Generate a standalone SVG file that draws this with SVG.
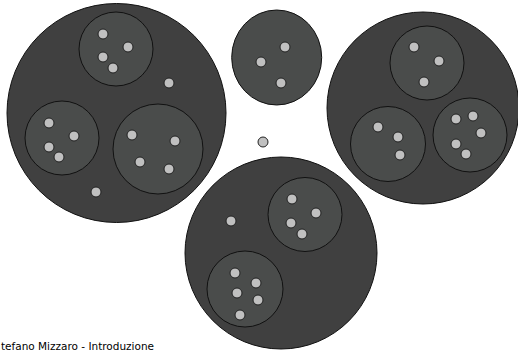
<svg xmlns="http://www.w3.org/2000/svg" width="518" height="352" viewBox="0 0 518 352">
<style>
.big{fill:#404040;stroke:#111;stroke-width:1}
.in{fill:#4a4c4b;stroke:#111;stroke-width:1}
.dot{fill:#c0c0c0;stroke:#222;stroke-width:1}
.foot{font-family:"DejaVu Sans",sans-serif;font-size:10px;fill:#000}
</style>
<rect width="518" height="352" fill="#fff"/>
<g id="set-left">
<circle class="big" cx="116.5" cy="113" r="109.5"/>
<g id="left-top"><circle class="in" cx="116" cy="49" r="37"/>
<circle class="dot" cx="103" cy="34" r="5"/><circle class="dot" cx="128" cy="47" r="5"/><circle class="dot" cx="103" cy="57" r="5"/><circle class="dot" cx="113" cy="68" r="5"/></g>
<g id="left-left"><circle class="in" cx="62" cy="138" r="37"/>
<circle class="dot" cx="49" cy="123" r="5"/><circle class="dot" cx="74" cy="136" r="5"/><circle class="dot" cx="49" cy="147" r="5"/><circle class="dot" cx="59" cy="157" r="5"/></g>
<g id="left-right"><circle class="in" cx="158" cy="149" r="45"/>
<circle class="dot" cx="132" cy="135" r="5"/><circle class="dot" cx="175" cy="141" r="5"/><circle class="dot" cx="140" cy="162" r="5"/><circle class="dot" cx="169" cy="169" r="5"/></g>
<circle class="dot" cx="169" cy="83" r="5"/>
<circle class="dot" cx="96" cy="192" r="5"/>
</g>
<g id="set-middle">
<ellipse class="in" cx="276.7" cy="57.5" rx="45" ry="47.5"/>
<circle class="dot" cx="285" cy="47" r="5"/><circle class="dot" cx="261" cy="62" r="5"/><circle class="dot" cx="281" cy="83" r="5"/>
</g>
<g id="set-right">
<circle class="big" cx="423" cy="108" r="96"/>
<g id="right-top"><circle class="in" cx="427" cy="63" r="37"/>
<circle class="dot" cx="414" cy="47" r="5"/><circle class="dot" cx="439" cy="61" r="5"/><circle class="dot" cx="424" cy="82" r="5"/></g>
<g id="right-left"><circle class="in" cx="388" cy="144" r="37.5"/>
<circle class="dot" cx="378" cy="127" r="5"/><circle class="dot" cx="398" cy="137" r="5"/><circle class="dot" cx="400" cy="155" r="5"/></g>
<g id="right-right"><circle class="in" cx="470" cy="135" r="37"/>
<circle class="dot" cx="456" cy="119" r="5"/><circle class="dot" cx="473" cy="116" r="5"/><circle class="dot" cx="481" cy="133" r="5"/><circle class="dot" cx="456" cy="144" r="5"/><circle class="dot" cx="466" cy="154" r="5"/></g>
</g>
<g id="lone-dot"><circle class="dot" cx="263" cy="142" r="5"/></g>
<g id="set-bottom">
<circle class="big" cx="281" cy="253" r="96"/>
<g id="bottom-right"><circle class="in" cx="305" cy="214.5" r="37"/>
<circle class="dot" cx="292" cy="199" r="5"/><circle class="dot" cx="316" cy="213" r="5"/><circle class="dot" cx="291" cy="223" r="5"/><circle class="dot" cx="302" cy="234" r="5"/></g>
<g id="bottom-left"><circle class="in" cx="245" cy="289" r="38"/>
<circle class="dot" cx="235" cy="273" r="5"/><circle class="dot" cx="256" cy="283" r="5"/><circle class="dot" cx="237" cy="293" r="5"/><circle class="dot" cx="258" cy="300" r="5"/><circle class="dot" cx="240" cy="315" r="5"/></g>
<circle class="dot" cx="231" cy="221" r="5"/>
</g>
<g id="connectors"/>
<text class="foot" x="1" y="350" textLength="153" lengthAdjust="spacingAndGlyphs">tefano Mizzaro - Introduzione</text>
</svg>
